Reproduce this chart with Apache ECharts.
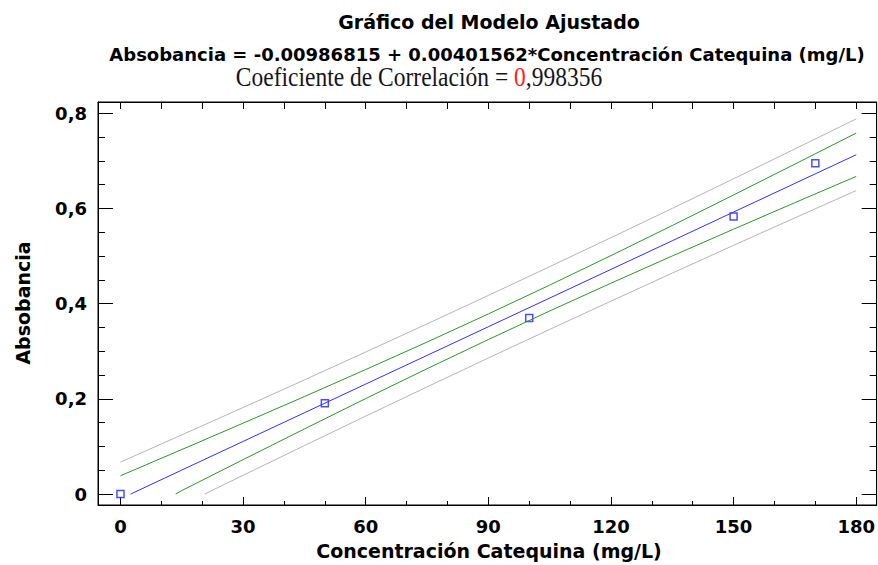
<!DOCTYPE html>
<html>
<head>
<meta charset="utf-8">
<script src="https://cdn.jsdelivr.net/npm/echarts@6/dist/echarts.min.js"></script>
<style>
html,body{margin:0;padding:0;background:#fff;}
#chart{width:878px;height:565px;}
</style>
</head>
<body>
<div id="chart"></div>
<script>
// ---- data ----
const titleLine1 = 'Gráfico del Modelo Ajustado';
const titleLine2 = 'Absobancia = -0.00986815 + 0.00401562*Concentración Catequina (mg/L)';
const corrLabel = 'Coeficiente de Correlación = ';
const corrFirst = '0';
const corrRest = ',998356';
const xAxisName = 'Concentración Catequina (mg/L)';
const yAxisName = 'Absobancia';

const xTickValues = [0, 30, 60, 90, 120, 150, 180];
const xTickLabels = ['0', '30', '60', '90', '120', '150', '180'];
const xMinorValues = [10, 20, 40, 50, 70, 80, 100, 110, 130, 140, 160, 170];
const yTickValues = [0, 0.2, 0.4, 0.6, 0.8];
const yTickLabels = ['0', '0,2', '0,4', '0,6', '0,8'];
const yMinorValues = [0.05, 0.1, 0.15, 0.25, 0.3, 0.35, 0.45, 0.5, 0.55, 0.65, 0.7, 0.75];

// observed points
const pointX = [0, 50, 100, 150, 170];
const pointY = [0.0, 0.191, 0.370, 0.583, 0.695];

// fitted line
const fitX = [2.5, 15, 30, 45, 60, 75, 90, 105, 120, 135, 150, 165, 180];
const fitY = [0.0, 0.0504, 0.1106, 0.1708, 0.2311, 0.2913, 0.3515, 0.4118, 0.4720, 0.5322, 0.5925, 0.6527, 0.7129];

// confidence limits (green)
const confUpX = [0, 15, 30, 45, 60, 75, 90, 105, 120, 135, 150, 165, 180];
const confUpY = [0.0384, 0.0935, 0.1489, 0.2048, 0.2616, 0.3193, 0.3784, 0.4390, 0.5010, 0.5642, 0.6285, 0.6932, 0.7584];
const confLoX = [13.5, 15, 30, 45, 60, 75, 90, 105, 120, 135, 150, 165, 180];
const confLoY = [0.0, 0.0073, 0.0723, 0.1368, 0.2006, 0.2633, 0.3246, 0.3846, 0.4430, 0.5002, 0.5565, 0.6122, 0.6674];

// prediction limits (gray)
const predUpX = [0, 15, 30, 45, 60, 75, 90, 105, 120, 135, 150, 165, 180];
const predUpY = [0.0671, 0.1243, 0.1818, 0.2398, 0.2984, 0.3575, 0.4172, 0.4777, 0.5387, 0.6002, 0.6624, 0.7251, 0.7882];
const predLoX = [20.6, 30, 45, 60, 75, 90, 105, 120, 135, 150, 165, 180];
const predLoY = [0.0, 0.0394, 0.1018, 0.1638, 0.2251, 0.2858, 0.3459, 0.4053, 0.4642, 0.5226, 0.5803, 0.6376];

// ---- chart ----
const zip = (xs, ys) => xs.map((x, i) => [x, ys[i]]);
const FONT = '"DejaVu Sans", Arial, sans-serif';
const X_MIN = -5.5, X_MAX = 185, Y_MIN = -0.023, Y_MAX = 0.8237;

const chart = echarts.init(document.getElementById('chart'), null, {renderer: 'svg'});

const labelOf = (vals, labels) => (v) => {
  const val = (v && typeof v === 'object') ? v.value : v;
  const i = vals.findIndex(t => Math.abs(t - val) < 1e-9);
  return i >= 0 ? labels[i] : '';
};

// tick-only axes
function xTicks(position, showLine, ticks, len) {
  return {type: 'value', min: X_MIN, max: X_MAX, position: position, splitLine: {show: false},
    axisLine: {show: showLine, onZero: false, lineStyle: {color: '#000', width: 1}},
    axisTick: {show: true, inside: true, length: len, customValues: ticks, lineStyle: {color: '#000', width: 1}},
    axisLabel: {show: false}};
}
function yTicks(position, showLine, ticks, len) {
  return {type: 'value', min: Y_MIN, max: Y_MAX, position: position, splitLine: {show: false},
    axisLine: {show: showLine, onZero: false, lineStyle: {color: '#000', width: 1}},
    axisTick: {show: true, inside: true, length: len, customValues: ticks, lineStyle: {color: '#000', width: 1}},
    axisLabel: {show: false}};
}
const labelStyle = {fontFamily: FONT, fontWeight: 'bold', fontSize: 18, color: '#000'};

const option = {
  animation: false,
  grid: {left: 98, right: 1, top: 102, bottom: 60, show: true, borderColor: '#000', borderWidth: 1},
  graphic: [
    {type: 'text', x: 489, y: 22, style: {text: titleLine1, align: 'center', verticalAlign: 'middle', font: 'bold 19px ' + FONT, fill: '#000'}},
    {type: 'text', x: 487, y: 54, style: {text: titleLine2, align: 'center', verticalAlign: 'middle', font: 'bold 18px ' + FONT, fill: '#000'}},
    {type: 'text', x: 419, y: 77, scaleX: 0.84,
      style: {text: '{a|' + corrLabel + '}{r|' + corrFirst + '}{a|' + corrRest + '}', align: 'center', verticalAlign: 'middle',
        rich: {
          a: {fontFamily: '"Liberation Serif", "Times New Roman", serif', fontSize: 28, fill: '#15151c'},
          r: {fontFamily: '"Liberation Serif", "Times New Roman", serif', fontSize: 28, fill: '#ff2020'}
        }}},
    {type: 'text', x: 489, y: 551, style: {text: xAxisName, align: 'center', verticalAlign: 'middle', font: 'bold 19px ' + FONT, fill: '#000'}},
    {type: 'text', x: 23, y: 303, rotation: Math.PI / 2, style: {text: yAxisName, align: 'center', verticalAlign: 'middle', font: 'bold 19px ' + FONT, fill: '#000'}}
  ],
  xAxis: [
    xTicks('bottom', true, xTickValues, 8),
    xTicks('bottom', false, xMinorValues, 4),
    xTicks('top', true, xTickValues.concat(xMinorValues), 7),
    {type: 'value', min: X_MIN, max: X_MAX, position: 'bottom', splitLine: {show: false},
      axisLine: {show: false, onZero: false}, axisTick: {show: false},
      axisLabel: Object.assign({show: true, customValues: xTickValues, formatter: labelOf(xTickValues, xTickLabels), margin: 12}, labelStyle)}
  ],
  yAxis: [
    yTicks('left', true, yTickValues, 15),
    yTicks('left', false, yMinorValues, 7),
    yTicks('right', true, yTickValues, 15),
    yTicks('right', false, yMinorValues, 7),
    {type: 'value', min: Y_MIN, max: Y_MAX, position: 'left', splitLine: {show: false},
      axisLine: {show: false, onZero: false}, axisTick: {show: false},
      axisLabel: Object.assign({show: true, customValues: yTickValues, formatter: labelOf(yTickValues, yTickLabels), margin: 11}, labelStyle)}
  ],
  series: [
    {type: 'line', name: 'predUp', data: zip(predUpX, predUpY), showSymbol: false, symbol: 'none', lineStyle: {color: '#b4b4b4', width: 1}},
    {type: 'line', name: 'predLo', data: zip(predLoX, predLoY), showSymbol: false, symbol: 'none', lineStyle: {color: '#b4b4b4', width: 1}},
    {type: 'line', name: 'confUp', data: zip(confUpX, confUpY), showSymbol: false, symbol: 'none', lineStyle: {color: '#2a962a', width: 1}},
    {type: 'line', name: 'confLo', data: zip(confLoX, confLoY), showSymbol: false, symbol: 'none', lineStyle: {color: '#2a962a', width: 1}},
    {type: 'line', name: 'fit', data: zip(fitX, fitY), showSymbol: false, symbol: 'none', lineStyle: {color: '#3030ff', width: 1}},
    {type: 'scatter', name: 'obs', data: zip(pointX, pointY), symbol: 'rect', symbolSize: 7,
      itemStyle: {color: '#fff', borderColor: '#1f1fff', borderWidth: 1.5}}
  ]
};
chart.setOption(option);
</script>
</body>
</html>
